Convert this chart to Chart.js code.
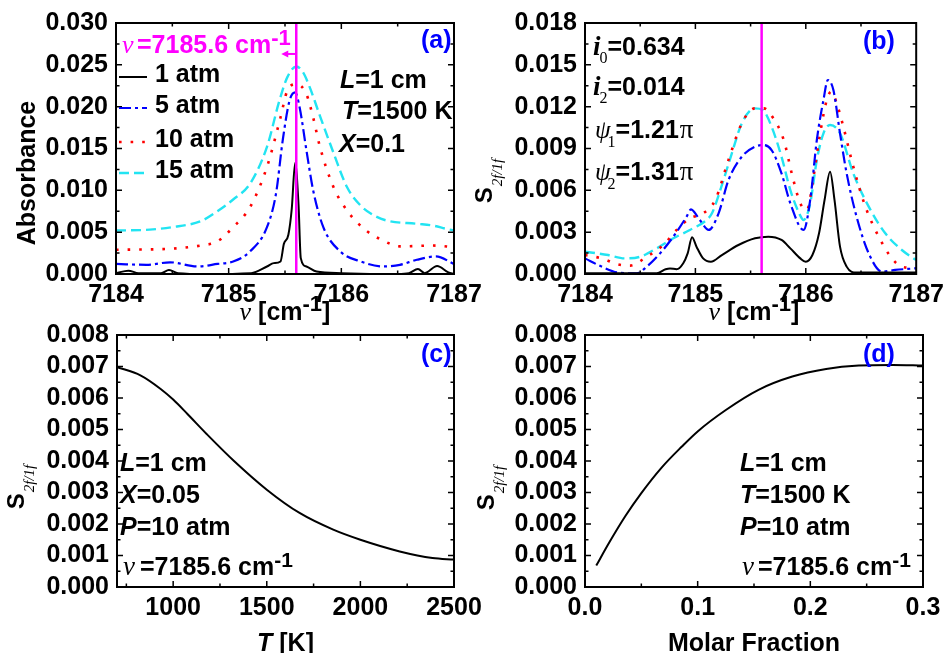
<!DOCTYPE html>
<html><head><meta charset="utf-8">
<script src="https://cdn.jsdelivr.net/npm/chart.js@4.4.1/dist/chart.umd.min.js"></script>
<style>
html,body{margin:0;padding:0;background:#fff;}
#wrap{position:relative;width:950px;height:653px;overflow:hidden;background:#fff;}
#wrap canvas{position:absolute;left:0;top:0;}
</style></head><body>
<div id="wrap">
<canvas id="pa" width="950" height="653"></canvas>
<canvas id="pb" width="950" height="653"></canvas>
<canvas id="pc" width="950" height="653"></canvas>
<canvas id="pd" width="950" height="653"></canvas>
</div>
<script>
// ---------------- data ----------------
const seriesNames = ['1 atm', '5 atm', '10 atm', '15 atm'];
const nuMark = 7185.6;

// (a) absorbance vs wavenumber
const abs1Nu = [7184.0, 7184.11, 7184.2, 7184.4, 7184.47, 7184.55, 7184.8, 7185.2, 7185.34, 7185.4, 7185.46, 7185.49, 7185.53, 7185.56, 7185.59, 7185.62, 7185.64, 7185.69, 7185.78, 7186.0, 7186.5, 7186.6, 7186.68, 7186.74, 7186.85, 7186.95, 7187.0];
const abs1 = [0.0001, 0.0004, 0.0001, 0.0001, 0.00048, 0.0001, 0.0, 0.0001, 0.0009, 0.0013, 0.0015, 0.0036, 0.0047, 0.0078, 0.0133, 0.0083, 0.0019, 0.0009, 0.0003, 0.0001, 0.0, 0.0001, 0.0006, 0.0001, 0.00095, 0.0002, 0.0];
const abs5Nu = [7184.0, 7184.27, 7184.48, 7184.72, 7184.9, 7185.04, 7185.19, 7185.34, 7185.42, 7185.48, 7185.54, 7185.59, 7185.63, 7185.69, 7185.75, 7185.84, 7185.99, 7186.17, 7186.37, 7186.52, 7186.67, 7186.84, 7187.0];
const abs5 = [0.0012, 0.0011, 0.0014, 0.0009, 0.0012, 0.0015, 0.0027, 0.0056, 0.0096, 0.0160, 0.0207, 0.0217, 0.0199, 0.0148, 0.0100, 0.0056, 0.0027, 0.0015, 0.0009, 0.0011, 0.0017, 0.0021, 0.0012];
const abs10Nu = [7184.0, 7184.45, 7184.75, 7184.9, 7185.04, 7185.19, 7185.34, 7185.46, 7185.52, 7185.6, 7185.69, 7185.75, 7185.81, 7185.93, 7186.05, 7186.22, 7186.37, 7186.52, 7186.81, 7187.0];
const abs10 = [0.0029, 0.0030, 0.0034, 0.0039, 0.0056, 0.0080, 0.0128, 0.0187, 0.0219, 0.0227, 0.0215, 0.0187, 0.0152, 0.0104, 0.0076, 0.0052, 0.0040, 0.0033, 0.0034, 0.0032];
const abs15Nu = [7184.0, 7184.3, 7184.5, 7184.75, 7184.9, 7185.04, 7185.19, 7185.34, 7185.45, 7185.52, 7185.6, 7185.66, 7185.72, 7185.81, 7185.93, 7186.05, 7186.17, 7186.29, 7186.4, 7186.67, 7186.81, 7186.93, 7187.0];
const abs15 = [0.0052, 0.0053, 0.0056, 0.0063, 0.0075, 0.0089, 0.0108, 0.0152, 0.0207, 0.0235, 0.0248, 0.0241, 0.0223, 0.0189, 0.0145, 0.0104, 0.0082, 0.0070, 0.0064, 0.0060, 0.0058, 0.0054, 0.0052];

// (b) S2f/1f vs wavenumber
const s1Nu = [7184.00, 7184.65, 7184.73, 7184.77, 7184.83, 7184.89, 7184.93, 7184.97, 7185.01, 7185.07, 7185.14, 7185.24, 7185.39, 7185.54, 7185.66, 7185.78, 7185.86, 7185.95, 7186.00, 7186.06, 7186.12, 7186.17, 7186.22, 7186.26, 7186.31, 7186.37, 7186.46, 7187.00];
const s1 = [0.00005, 0.00005, 0.00034, 0.0004, 0.00034, 0.00077, 0.00148, 0.00263, 0.00196, 0.00112, 0.00088, 0.00136, 0.00208, 0.00256, 0.00268, 0.00244, 0.00184, 0.00112, 0.00088, 0.00136, 0.00292, 0.00531, 0.00734, 0.00531, 0.00196, 0.00053, 0.0001, 0.0001];
const s5Nu = [7184.00, 7184.15, 7184.30, 7184.47, 7184.56, 7184.68, 7184.80, 7184.92, 7184.96, 7185.04, 7185.12, 7185.21, 7185.30, 7185.42, 7185.54, 7185.61, 7185.69, 7185.78, 7185.86, 7185.98, 7186.04, 7186.10, 7186.16, 7186.20, 7186.25, 7186.31, 7186.37, 7186.46, 7186.57, 7186.69, 7186.81, 7187.00];
const s5 = [0.00112, 0.00053, 0.0001, 0.00005, 0.00053, 0.00148, 0.00268, 0.00411, 0.00464, 0.00387, 0.00316, 0.00435, 0.00674, 0.00841, 0.00913, 0.00925, 0.00889, 0.00722, 0.00507, 0.00316, 0.00531, 0.00961, 0.01248, 0.01391, 0.01319, 0.01009, 0.00722, 0.00411, 0.00148, 0.00017, 0.00029, 0.00041];
const s10Nu = [7184.00, 7184.15, 7184.30, 7184.41, 7184.56, 7184.71, 7184.83, 7184.95, 7185.07, 7185.18, 7185.30, 7185.42, 7185.54, 7185.62, 7185.70, 7185.80, 7185.88, 7185.95, 7186.01, 7186.07, 7186.13, 7186.19, 7186.23, 7186.28, 7186.34, 7186.43, 7186.54, 7186.66, 7186.78, 7186.87, 7187.00];
const s10 = [0.00136, 0.00112, 0.00069, 0.0006, 0.00124, 0.00208, 0.00316, 0.00399, 0.00435, 0.00531, 0.00818, 0.0108, 0.01188, 0.01188, 0.01124, 0.00961, 0.00698, 0.00507, 0.00459, 0.00698, 0.01009, 0.01248, 0.01307, 0.01224, 0.01057, 0.0077, 0.00483, 0.00268, 0.00112, 0.00053, 0.00041];
const s15Nu = [7184.00, 7184.21, 7184.36, 7184.50, 7184.65, 7184.80, 7184.95, 7185.10, 7185.15, 7185.24, 7185.33, 7185.42, 7185.54, 7185.61, 7185.69, 7185.78, 7185.86, 7185.94, 7185.98, 7186.04, 7186.10, 7186.16, 7186.22, 7186.31, 7186.43, 7186.57, 7186.72, 7186.87, 7187.00];
const s15 = [0.0016, 0.00136, 0.00112, 0.00124, 0.00184, 0.00256, 0.00316, 0.00387, 0.00435, 0.00638, 0.00865, 0.0108, 0.01188, 0.01176, 0.01057, 0.00841, 0.00602, 0.00435, 0.00387, 0.00507, 0.00818, 0.01009, 0.01069, 0.01009, 0.00722, 0.00483, 0.00292, 0.00172, 0.001];

// (c) S2f/1f vs temperature
const tempK = [700, 825, 935, 1000, 1075, 1180, 1325, 1500, 1675, 1855, 2000, 2210, 2385, 2500];
const sTemp = [0.00698, 0.00672, 0.00628, 0.00595, 0.00550, 0.00485, 0.00400, 0.00309, 0.00235, 0.00182, 0.0015, 0.00113, 0.00092, 0.00087];

// (d) S2f/1f vs molar fraction
const molFrac = [0.01, 0.021, 0.036, 0.05, 0.068, 0.086, 0.1, 0.125, 0.154, 0.184, 0.214, 0.243, 0.273, 0.3];
const sMol = [0.00068, 0.00138, 0.00226, 0.00298, 0.00379, 0.00446, 0.00494, 0.00562, 0.00626, 0.00668, 0.00692, 0.00703, 0.00705, 0.00703];

// tick labels
const nuTicks = [7184, 7185, 7186, 7187];
const absTicks = [0, 0.005, 0.010, 0.015, 0.020, 0.025, 0.030];
const sNuTicks = [0, 0.003, 0.006, 0.009, 0.012, 0.015, 0.018];
const sTicks = [0, 0.001, 0.002, 0.003, 0.004, 0.005, 0.006, 0.007, 0.008];
const tempTicks = [1000, 1500, 2000, 2500];
const molTicks = [0.0, 0.1, 0.2, 0.3];

// ---------------- styles ----------------
const SANS = "'Liberation Sans', Arial, Helvetica, sans-serif";
const SERIF = "'Liberation Serif', 'Times New Roman', serif";
const fB = s => `bold ${s}px ${SANS}`;
const fBI = s => `italic bold ${s}px ${SANS}`;
const fGI = s => `italic ${s}px ${SERIF}`;
const fS = s => `${s}px ${SERIF}`;
const fSBI = s => `italic bold ${s}px ${SERIF}`;
const MAG = '#ff00ff', BLUE = '#0000ff';
const STY = [
  {borderColor: '#000000', borderWidth: 2, borderDash: []},
  {borderColor: '#0000ff', borderWidth: 2.2, borderDash: [12, 4, 3, 4]},
  {borderColor: '#ff0000', borderWidth: 2.6, borderDash: [2.6, 9]},
  {borderColor: '#22e4f2', borderWidth: 2.4, borderDash: [10, 5]}
];

const pts = (xs, ys) => xs.map((x, i) => ({x: x, y: ys[i]}));
function series(i, xs, ys) {
  return Object.assign({label: seriesNames[i], data: pts(xs, ys), pointRadius: 0, fill: false,
    cubicInterpolationMode: 'monotone', borderCapStyle: 'butt'}, STY[i]);
}
function single(xs, ys) {
  return {label: 'S', data: pts(xs, ys), pointRadius: 0, fill: false, borderColor: '#000', borderWidth: 2,
    cubicInterpolationMode: 'monotone'};
}
function markLine(yTicks) {
  return {label: 'mark', data: [{x: nuMark, y: yTicks[0]}, {x: nuMark, y: yTicks[yTicks.length - 1]}],
    pointRadius: 0, borderColor: MAG, borderWidth: 2.5, tension: 0, fill: false};
}

function rich(ctx, x, y, parts, align, color) {
  ctx.save();
  ctx.textBaseline = 'alphabetic'; ctx.textAlign = 'left'; ctx.fillStyle = color || '#000';
  let w = 0;
  for (const p of parts) { ctx.font = p[1]; w += ctx.measureText(p[0]).width + (p[3] || 0); }
  let cx = align === 'center' ? x - w / 2 : x;
  for (const p of parts) {
    cx += (p[3] || 0); ctx.font = p[1];
    ctx.fillText(p[0], cx, y + (p[2] || 0));
    cx += ctx.measureText(p[0]).width;
  }
  ctx.restore();
}
function richRot(ctx, x, y, parts) {
  ctx.save(); ctx.translate(x, y); ctx.rotate(-Math.PI / 2); rich(ctx, 0, 0, parts, 'center'); ctx.restore();
}
const sLabel = [['S', fB(24)], ['2f/1f', fGI(15), 10, 1]];
const nuTitle = [['ν', fGI(26)], [' [cm', fB(25)], ['-1', fB(22), -9], [']', fB(25)]];

function frameAndTicks(ctx, chart, minorX, minorY) {
  const xs = chart.scales.x, ys = chart.scales.y, a = chart.chartArea;
  const majX = xs.ticks.map(t => t.value), majY = ys.ticks.map(t => t.value);
  const isMaj = (v, arr) => arr.some(m => Math.abs(m - v) < 1e-7 * Math.max(1, Math.abs(v)));
  ctx.save();
  ctx.setLineDash([]); ctx.strokeStyle = '#000'; ctx.lineWidth = 1.5;
  ctx.beginPath();
  for (let n = Math.ceil(xs.min / minorX - 1e-6); n * minorX <= xs.max + 1e-9; n++) {
    const v = n * minorX, p = xs.getPixelForValue(v);
    if (p <= a.left + 1 || p >= a.right - 1) continue;
    const L = isMaj(v, majX) ? 6 : 3.5;
    ctx.moveTo(p, a.bottom); ctx.lineTo(p, a.bottom - L);
    ctx.moveTo(p, a.top); ctx.lineTo(p, a.top + L);
  }
  for (let n = Math.ceil(ys.min / minorY - 1e-6); n * minorY <= ys.max + 1e-12; n++) {
    const v = n * minorY, p = ys.getPixelForValue(v);
    if (p <= a.top + 1 || p >= a.bottom - 1) continue;
    const L = isMaj(v, majY) ? 6 : 3.5;
    ctx.moveTo(a.left, p); ctx.lineTo(a.left + L, p);
    ctx.moveTo(a.right, p); ctx.lineTo(a.right - L, p);
  }
  ctx.stroke();
  ctx.lineWidth = 2;
  ctx.strokeRect(a.left, a.top, a.right - a.left, a.bottom - a.top);
  ctx.restore();
}

function makeChart(id, box, xc, yc, datasets, minor, draw) {
  const W = 950, H = 653, XH = 40;
  const tickFont = {family: SANS, size: 25, weight: 'bold'};
  return new Chart(document.getElementById(id), {
    type: 'line',
    data: {datasets: datasets},
    options: {
      responsive: false, animation: false, devicePixelRatio: 1,
      layout: {padding: {left: 0, top: box.top, right: W - box.right, bottom: H - box.bottom - XH}},
      plugins: {legend: {display: false}, tooltip: {enabled: false}},
      scales: {
        x: {type: 'linear', position: 'bottom', min: xc.min, max: xc.max,
          afterBuildTicks: s => { s.ticks = xc.ticks.map(v => ({value: v})); },
          afterFit: s => { s.height = XH; },
          grid: {display: false, drawTicks: false}, border: {display: false},
          ticks: {color: '#000', font: tickFont, padding: 6, maxRotation: 0, minRotation: 0, autoSkip: false,
            callback: v => xc.fmt(v)}},
        y: {type: 'linear', position: 'left', min: yc.min, max: yc.max,
          afterBuildTicks: s => { s.ticks = yc.ticks.map(v => ({value: v})); },
          afterFit: s => { s.width = box.left; },
          grid: {display: false, drawTicks: false}, border: {display: false},
          ticks: {color: '#000', font: tickFont, padding: 8, autoSkip: false,
            callback: v => yc.fmt(v)}}
      }
    },
    plugins: [{id: 'deco', afterDraw(chart) {
      const ctx = chart.ctx;
      frameAndTicks(ctx, chart, minor[0], minor[1]);
      draw(ctx, chart);
    }}]
  });
}

const f3 = v => Number(v).toFixed(3);
const f1 = v => Number(v).toFixed(1);
const fi = v => String(Math.round(v));

// ---------- panel (a) ----------
makeChart('pa', {left: 116, right: 454, top: 22, bottom: 274},
  {min: 7184, max: 7187, ticks: nuTicks, fmt: fi},
  {min: 0, max: 0.03, ticks: absTicks, fmt: f3},
  [markLine(absTicks), series(0, abs1Nu, abs1), series(1, abs5Nu, abs5), series(2, abs10Nu, abs10), series(3, abs15Nu, abs15)],
  [0.5, 0.0025],
  (ctx, chart) => {
    const xs = chart.scales.x, ys = chart.scales.y;
    rich(ctx, 122, 53, [['ν', fGI(26)]], 'left', MAG);
    rich(ctx, 137, 53, [['=7185.6 cm', fB(25)], ['-1', fB(22), -8]], 'left', MAG);
    // arrow
    const px = xs.getPixelForValue(nuMark), py = ys.getPixelForValue(0.0263);
    ctx.save(); ctx.strokeStyle = MAG; ctx.fillStyle = MAG; ctx.lineWidth = 2; ctx.setLineDash([]);
    ctx.beginPath(); ctx.moveTo(px, py); ctx.lineTo(px - 9, py); ctx.stroke();
    ctx.beginPath(); ctx.moveTo(px - 15, py); ctx.lineTo(px - 8, py - 3.5); ctx.lineTo(px - 8, py + 3.5); ctx.closePath(); ctx.fill();
    ctx.restore();
    // legend
    const rows = [[77, 81.7], [108, 113], [142, 146.7], [173, 178]];
    rows.forEach((r, i) => {
      const ds = chart.data.datasets[i + 1];
      ctx.save(); ctx.strokeStyle = ds.borderColor; ctx.lineWidth = ds.borderWidth; ctx.setLineDash(ds.borderDash);
      ctx.beginPath(); ctx.moveTo(119, r[0]); ctx.lineTo(147, r[0]); ctx.stroke(); ctx.restore();
      rich(ctx, 155, r[1], [[ds.label, fB(25)]]);
    });
    rich(ctx, 340, 88, [['L', fBI(25)], ['=1 cm', fB(25)]]);
    rich(ctx, 342, 119, [['T', fBI(25)], ['=1500 K', fB(25)]]);
    rich(ctx, 339, 152, [['X', fBI(25)], ['=0.1', fB(25)]]);
    rich(ctx, 421, 48, [['(a)', fB(25)]], 'left', BLUE);
    richRot(ctx, 35, 173, [['Absorbance', fB(25)]]);
    rich(ctx, 285, 320, nuTitle, 'center');
  });

// ---------- panel (b) ----------
makeChart('pb', {left: 585, right: 923, top: 22, bottom: 274},
  {min: 7184, max: 7187, ticks: nuTicks, fmt: fi},
  {min: 0, max: 0.018, ticks: sNuTicks, fmt: f3},
  [markLine(sNuTicks), series(0, s1Nu, s1), series(1, s5Nu, s5), series(2, s10Nu, s10), series(3, s15Nu, s15)],
  [0.5, 0.0015],
  (ctx, chart) => {
    rich(ctx, 593, 55, [['i', fSBI(27)], ['0', fS(16), 8, -1], ['=0.634', fB(25), 0, 0]]);
    rich(ctx, 593, 95, [['i', fSBI(27)], ['2', fS(16), 8, -1], ['=0.014', fB(25), 0, 0]]);
    rich(ctx, 595, 138, [['ψ', fGI(25)], ['1', fS(16), 9, -3], ['=1.21', fB(25), 0, 0], ['π', fS(27), 0, 1]]);
    rich(ctx, 595, 180, [['ψ', fGI(25)], ['2', fS(16), 9, -3], ['=1.31', fB(25), 0, 0], ['π', fS(27), 0, 1]]);
    rich(ctx, 863, 49, [['(b)', fB(25)]], 'left', BLUE);
    richRot(ctx, 492, 181, sLabel);
    rich(ctx, 754, 320, nuTitle, 'center');
  });

// ---------- panel (c) ----------
makeChart('pc', {left: 117, right: 454, top: 335, bottom: 587},
  {min: 700, max: 2500, ticks: tempTicks, fmt: fi},
  {min: 0, max: 0.008, ticks: sTicks, fmt: f3},
  [single(tempK, sTemp)],
  [250, 0.0005],
  (ctx, chart) => {
    rich(ctx, 120, 471, [['L', fBI(25)], ['=1 cm', fB(25)]]);
    rich(ctx, 120, 503, [['X', fBI(25)], ['=0.05', fB(25)]]);
    rich(ctx, 120, 535, [['P', fBI(25)], ['=10 atm', fB(25)]]);
    rich(ctx, 123, 575, [['ν', fGI(27)]]);
    rich(ctx, 140, 575, [['=7185.6 cm', fB(25)], ['-1', fB(21), -8]]);
    rich(ctx, 421, 362, [['(c)', fB(25)]], 'left', BLUE);
    richRot(ctx, 24, 487, sLabel);
    rich(ctx, 285.5, 651, [['T', fBI(25)], [' [K]', fB(25)]], 'center');
  });

// ---------- panel (d) ----------
makeChart('pd', {left: 585, right: 923, top: 335, bottom: 587},
  {min: 0, max: 0.3, ticks: molTicks, fmt: f1},
  {min: 0, max: 0.008, ticks: sTicks, fmt: f3},
  [single(molFrac, sMol)],
  [0.05, 0.0005],
  (ctx, chart) => {
    rich(ctx, 740, 471, [['L', fBI(25)], ['=1 cm', fB(25)]]);
    rich(ctx, 740, 503, [['T', fBI(25)], ['=1500 K', fB(25)]]);
    rich(ctx, 740, 535, [['P', fBI(25)], ['=10 atm', fB(25)]]);
    rich(ctx, 742, 575, [['ν', fGI(27)]]);
    rich(ctx, 758, 575, [['=7185.6 cm', fB(25)], ['-1', fB(21), -8]]);
    rich(ctx, 863, 362, [['(d)', fB(25)]], 'left', BLUE);
    richRot(ctx, 494, 488, sLabel);
    rich(ctx, 754, 651, [['Molar Fraction', fB(25)]], 'center');
  });
</script>
</body></html>
